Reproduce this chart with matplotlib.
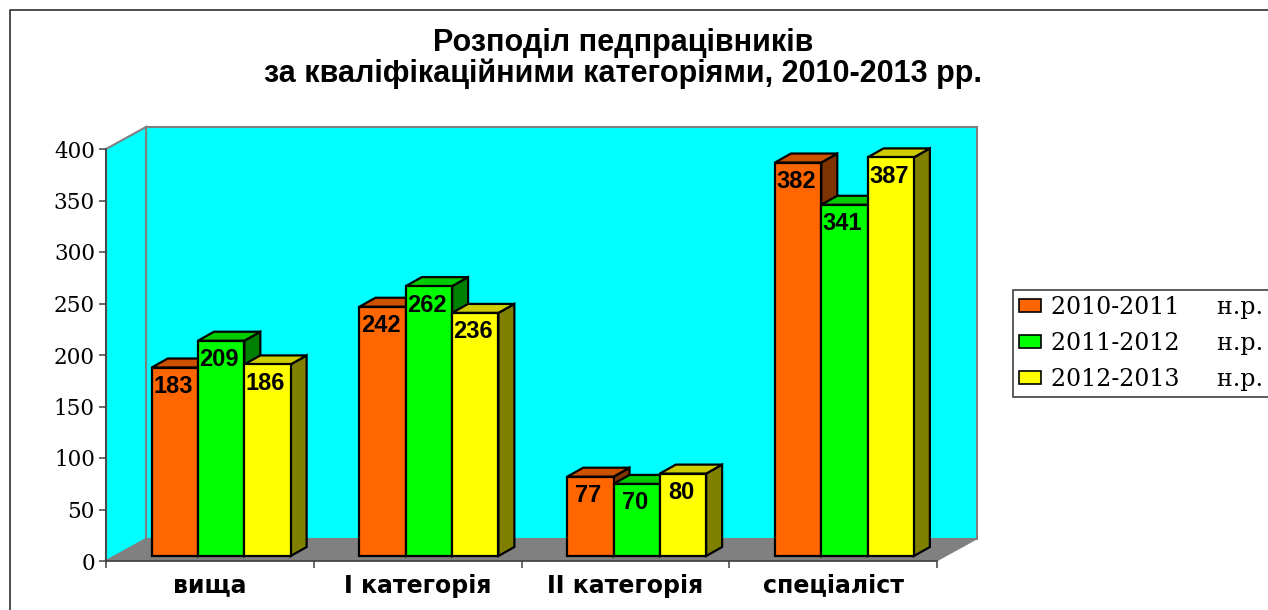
import numpy as np
import matplotlib
matplotlib.use("Agg")
import matplotlib.pyplot as plt
from matplotlib.lines import Line2D
from matplotlib.patches import Patch, Polygon

# Data
categories = ["вища", "I категорія", "II категорія", "спеціаліст"]
series_names = ["2010-2011     н.р.", "2011-2012     н.р.", "2012-2013     н.р."]
values_2010 = [183, 242, 77, 382]
values_2011 = [209, 262, 70, 341]
values_2012 = [186, 236, 80, 387]
y_ticks = [0, 50, 100, 150, 200, 250, 300, 350, 400]

W, H = 1268, 610
FRONT = "#FF6600", "#00FF00", "#FFFF00"
TOP = "#CC5200", "#00CC00", "#CCCC00"
SIDE = "#7F3300", "#008000", "#808000"

fig = plt.figure(figsize=(W / 100, H / 100), dpi=100, facecolor="white")

# plot area in pixels: x 106-937, y 149-561
ax = fig.add_axes([106 / W, 1 - 561 / H, 831 / W, 412 / H])
ax.set_xlim(0, len(categories))
ax.set_ylim(0, y_ticks[-1])
ax.patch.set_visible(False)
ux = len(categories) / 831   # data units for one pixel
uy = y_ticks[-1] / 412


def poly(points, face, edge="black", lw=1.6, z=2):
    ax.add_patch(Polygon(points, closed=True, facecolor=face, edgecolor=edge,
                         linewidth=lw, clip_on=False, zorder=z, joinstyle="miter"))


# walls and floor
dx, dy = 40 * ux, 22 * uy
nc = len(categories)
top = y_ticks[-1]
poly([(dx, dy), (nc + dx, dy), (nc + dx, top + dy), (dx, top + dy)], "#00FFFF", "#808080", 1.5, 1)
poly([(0, 0), (dx, dy), (dx, top + dy), (0, top)], "#00FFFF", "#808080", 1.5, 1)
poly([(0, 0), (nc, 0), (nc + dx, dy), (dx, dy)], "#808080", "#808080", 0.5, 1)

# 3D bars, painted left to right
bar_w = 46.3 * ux
off_x, off_y = 11.3 * ux, 5 * uy
depth_x, depth_y = 16 * ux, 9 * uy
margin = (1 - 3 * bar_w) / 2
all_values = [values_2010, values_2011, values_2012]
for i in range(nc):
    for s, vals in enumerate(all_values):
        x0 = i + margin + off_x + s * bar_w
        x1 = x0 + bar_w
        y0 = off_y
        y1 = off_y + vals[i]
        poly([(x1, y0), (x1 + depth_x, y0 + depth_y), (x1 + depth_x, y1 + depth_y), (x1, y1)], SIDE[s])
        poly([(x0, y1), (x1, y1), (x1 + depth_x, y1 + depth_y), (x0 + depth_x, y1 + depth_y)], TOP[s])
        poly([(x0, y0), (x1, y0), (x1, y1), (x0, y1)], FRONT[s])
for i in range(nc):
    for s, vals in enumerate(all_values):
        x0 = i + margin + off_x + s * bar_w
        ax.text(x0 + bar_w / 2 - 2 * ux, off_y + vals[i] - 19 * uy, str(vals[i]),
                ha="center", va="center", family="Liberation Sans", weight="bold",
                fontsize=17, color="black", zorder=5, clip_on=False)

# axes
for side in ("top", "right"):
    ax.spines[side].set_visible(False)
ax.spines["left"].set_color("#404040")
ax.spines["bottom"].set_color("#404040")
ax.spines["left"].set_linewidth(1.2)
ax.spines["bottom"].set_linewidth(1.2)
ax.spines["left"].set_zorder(6)
ax.spines["bottom"].set_zorder(6)
ax.set_yticks(y_ticks)
ax.tick_params(axis="y", length=5, width=1.1, color="#404040", pad=3, labelsize=15.5)
for lab in ax.get_yticklabels():
    lab.set_family("DejaVu Serif")
ax.set_xticks(np.arange(nc + 1))
ax.set_xticklabels([])
ax.tick_params(axis="x", which="major", length=5, width=1.1, color="#404040")
ax.set_xticks(np.arange(nc) + 0.5, minor=True)
ax.set_xticklabels(categories, minor=True, family="DejaVu Sans", weight="bold", fontsize=17)
ax.tick_params(axis="x", which="minor", length=0, pad=9)

# title
fig.text(623 / W, 1 - 58.5 / H, "Розподіл педпрацівників\nза кваліфікаційними категоріями, 2010-2013 рр.",
         ha="center", va="center", family="Liberation Sans", weight="bold",
         fontsize=22, linespacing=1.03, color="black")

# outer frame, open at the right and bottom
fig.add_artist(Line2D([10 / W, 10 / W, 1], [0, 1 - 10 / H, 1 - 10 / H], color="#303030", lw=1.2))

# legend
handles = [Patch(facecolor=c, edgecolor="black", linewidth=1.2) for c in FRONT]
leg = fig.legend(handles, series_names, loc="upper left",
                 bbox_to_anchor=(1013 / W, 1 - 290 / H), borderaxespad=0,
                 fancybox=False, framealpha=1, edgecolor="#404040", ncol=1,
                 prop={"family": "DejaVu Serif", "size": 17},
                 handlelength=0.95, handleheight=0.5, handletextpad=0.4,
                 labelspacing=0.55, borderpad=0.25)
leg.get_frame().set_linewidth(1.2)

fig.savefig("out.png", dpi=100, facecolor="white")
